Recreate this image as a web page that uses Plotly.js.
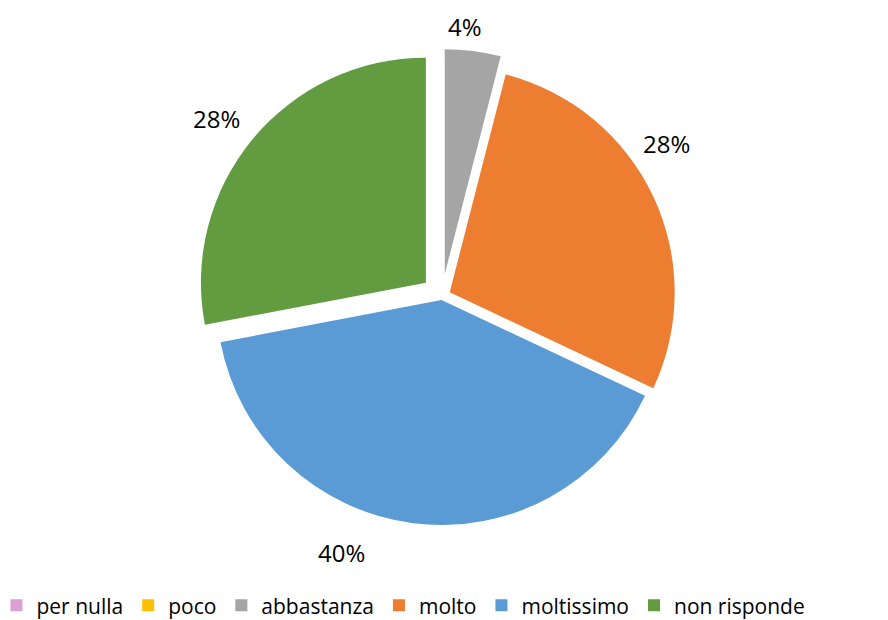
<!DOCTYPE html>
<html><head><meta charset="utf-8">
<script src="https://cdn.plot.ly/plotly-3.0.1.min.js"></script>
<style>html,body{margin:0;padding:0;background:#fff}#chart{width:888px;height:620px}</style>
</head><body><div id="chart"></div>
<script>
const categories = ["per nulla", "poco", "abbastanza", "molto", "moltissimo", "non risponde"];
const values = [0, 0, 4, 28, 40, 28];
const colors = ["#DBA0D3", "#FFC000", "#A5A5A5", "#ED7D31", "#5B9BD5", "#629B40"];
const pulls = [0, 0, 0.098, 0.038, 0.018, 0.093];
// label centres (px from top-left) for the non-zero slices, layout only
const labelPos = [null, null, [465, 25], [666, 142], [341, 551], [216, 118]];

const W = 888, H = 620;
const total = values.reduce((a, b) => a + b, 0);

const trace = {
  type: "pie",
  labels: categories,
  values: values,
  sort: false,
  direction: "clockwise",
  rotation: 0,
  pull: pulls,
  marker: {colors: colors, line: {width: 0}},
  textinfo: "none",
  hoverinfo: "label+percent",
  domain: {x: [0.2196, 0.7759], y: [0.1242, 0.9210]},
  automargin: false
};

const annotations = [];
values.forEach((v, i) => {
  if (v > 0 && labelPos[i]) {
    annotations.push({
      xref: "paper", yref: "paper",
      x: labelPos[i][0] / W, y: 1 - (labelPos[i][1] + 1) / H,
      xanchor: "center", yanchor: "middle",
      text: Math.round(v / total * 100) + "%",
      showarrow: false,
      font: {family: "'Open Sans', sans-serif", size: 24, color: "#000"}
    });
  }
});

const layout = {
  width: W, height: H,
  margin: {l: 0, r: 0, t: 0, b: 0, autoexpand: false},
  paper_bgcolor: "#fff",
  font: {family: "'Open Sans', sans-serif", size: 21, color: "#000"},
  showlegend: true,
  annotations: annotations,
  legend: {
    orientation: "h", x: -0.004, xanchor: "left", y: -0.010, yanchor: "bottom",
    font: {family: "'Open Sans', sans-serif", size: 21, color: "#000"}, itemwidth: 30, traceorder: "normal",
    bgcolor: "rgba(0,0,0,0)"
  }
};

Plotly.newPlot("chart", [trace], layout, {displayModeBar: false, staticPlot: true});
</script></body></html>
